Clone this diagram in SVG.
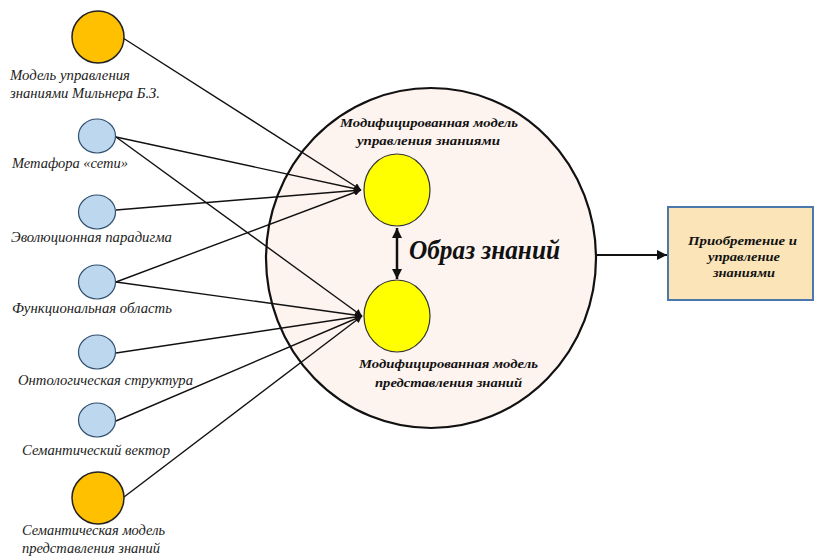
<svg xmlns="http://www.w3.org/2000/svg" width="815" height="556" viewBox="0 0 815 556">
<style>
.lbl{font-family:"Liberation Serif","Times New Roman",serif;font-style:italic;font-size:14px;fill:#222}
.bi{font-family:"Liberation Serif","Times New Roman",serif;font-style:italic;font-weight:bold;font-size:13px;fill:#111}
.big{font-family:"Liberation Serif","Times New Roman",serif;font-style:italic;font-weight:bold;font-size:27px;fill:#111}
.or{fill:#ffc000;stroke:#222;stroke-width:1.5}
.bl{fill:#bdd7ee;stroke:#2f4f6f;stroke-width:1.2}
.ye{fill:#ffff00;stroke:#333;stroke-width:1.2}
.con{stroke:#111;stroke-width:1.4;fill:none}
</style>
<defs>
<marker id="ah" viewBox="0 0 10 10" refX="10" refY="5" markerWidth="7" markerHeight="7" markerUnits="userSpaceOnUse" orient="auto"><path d="M0,0 L10,5 L0,10 z" fill="#111"/></marker>
<marker id="ah2" viewBox="0 0 10 10" refX="10" refY="5" markerWidth="10" markerHeight="10" markerUnits="userSpaceOnUse" orient="auto-start-reverse"><path d="M0,0 L10,5 L0,10 z" fill="#111"/></marker>
</defs>
<g id="knowledge-image">
<ellipse cx="431" cy="258" rx="165" ry="170" fill="#fdf3ef" stroke="#111" stroke-width="2.2"/>
<text class="big" x="409" y="259" textLength="151" lengthAdjust="spacingAndGlyphs">Образ знаний</text>
</g>
<g id="connectors">
<line class="con" x1="123" y1="38" x2="361" y2="190" marker-end="url(#ah)"/>
<line class="con" x1="116" y1="137" x2="361" y2="190" marker-end="url(#ah)"/>
<line class="con" x1="116" y1="137" x2="362" y2="316" marker-end="url(#ah)"/>
<line class="con" x1="116" y1="210" x2="361" y2="190" marker-end="url(#ah)"/>
<line class="con" x1="116" y1="282" x2="361" y2="190" marker-end="url(#ah)"/>
<line class="con" x1="116" y1="282" x2="362" y2="316" marker-end="url(#ah)"/>
<line class="con" x1="116" y1="353" x2="362" y2="316" marker-end="url(#ah)"/>
<line class="con" x1="116" y1="421" x2="362" y2="316" marker-end="url(#ah)"/>
<line class="con" x1="124" y1="497" x2="362" y2="316" marker-end="url(#ah)"/>
<line x1="397" y1="228" x2="397" y2="279" stroke="#111" stroke-width="2.5" marker-start="url(#ah2)" marker-end="url(#ah2)"/>
<line x1="596" y1="255" x2="667" y2="255" stroke="#111" stroke-width="2" marker-end="url(#ah2)"/>
</g>
<g id="n-milner">
<circle class="or" cx="98" cy="37" r="26"/>
<text class="lbl" x="10" y="80" textLength="120" lengthAdjust="spacingAndGlyphs">Модель управления</text>
<text class="lbl" x="10" y="98" textLength="150" lengthAdjust="spacingAndGlyphs">знаниями Мильнера Б.З.</text>
</g>
<g id="n-network">
<ellipse class="bl" cx="97" cy="136" rx="18.5" ry="17"/>
<text class="lbl" x="12" y="168" textLength="116" lengthAdjust="spacingAndGlyphs">Метафора «сети»</text>
</g>
<g id="n-evolution">
<ellipse class="bl" cx="97" cy="212" rx="18.5" ry="17"/>
<text class="lbl" x="11" y="242" textLength="161" lengthAdjust="spacingAndGlyphs">Эволюционная парадигма</text>
</g>
<g id="n-functional">
<ellipse class="bl" cx="97" cy="282" rx="18.5" ry="17"/>
<text class="lbl" x="12" y="313" textLength="160" lengthAdjust="spacingAndGlyphs">Функциональная область</text>
</g>
<g id="n-ontology">
<ellipse class="bl" cx="97" cy="352" rx="18.5" ry="17"/>
<text class="lbl" x="18" y="385" textLength="175" lengthAdjust="spacingAndGlyphs">Онтологическая структура</text>
</g>
<g id="n-vector">
<ellipse class="bl" cx="97" cy="420" rx="18.5" ry="17"/>
<text class="lbl" x="22" y="455" textLength="148" lengthAdjust="spacingAndGlyphs">Семантический вектор</text>
</g>
<g id="n-semantic">
<circle class="or" cx="98" cy="498" r="26"/>
<text class="lbl" x="22" y="535" textLength="143" lengthAdjust="spacingAndGlyphs">Семантическая модель</text>
<text class="lbl" x="22" y="553" textLength="138" lengthAdjust="spacingAndGlyphs">представления знаний</text>
</g>
<g id="n-mod-management">
<ellipse class="ye" cx="397" cy="190" rx="33" ry="36"/>
<text class="bi" x="340" y="127" textLength="178" lengthAdjust="spacingAndGlyphs">Модифицированная модель</text>
<text class="bi" x="357" y="145" textLength="143" lengthAdjust="spacingAndGlyphs">управления знаниями</text>
</g>
<g id="n-mod-representation">
<ellipse class="ye" cx="397" cy="316" rx="33" ry="36"/>
<text class="bi" x="359" y="368" textLength="179" lengthAdjust="spacingAndGlyphs">Модифицированная модель</text>
<text class="bi" x="375" y="387" textLength="147" lengthAdjust="spacingAndGlyphs">представления знаний</text>
</g>
<g id="n-acquisition">
<rect x="668" y="207" width="145" height="93" fill="#fbe5b8" stroke="#4a78aa" stroke-width="2"/>
<text class="bi" x="688" y="245" textLength="109" lengthAdjust="spacingAndGlyphs">Приобретение и</text>
<text class="bi" x="708" y="261" textLength="72" lengthAdjust="spacingAndGlyphs">управление</text>
<text class="bi" x="713" y="277" textLength="62" lengthAdjust="spacingAndGlyphs">знаниями</text>
</g>
</svg>
